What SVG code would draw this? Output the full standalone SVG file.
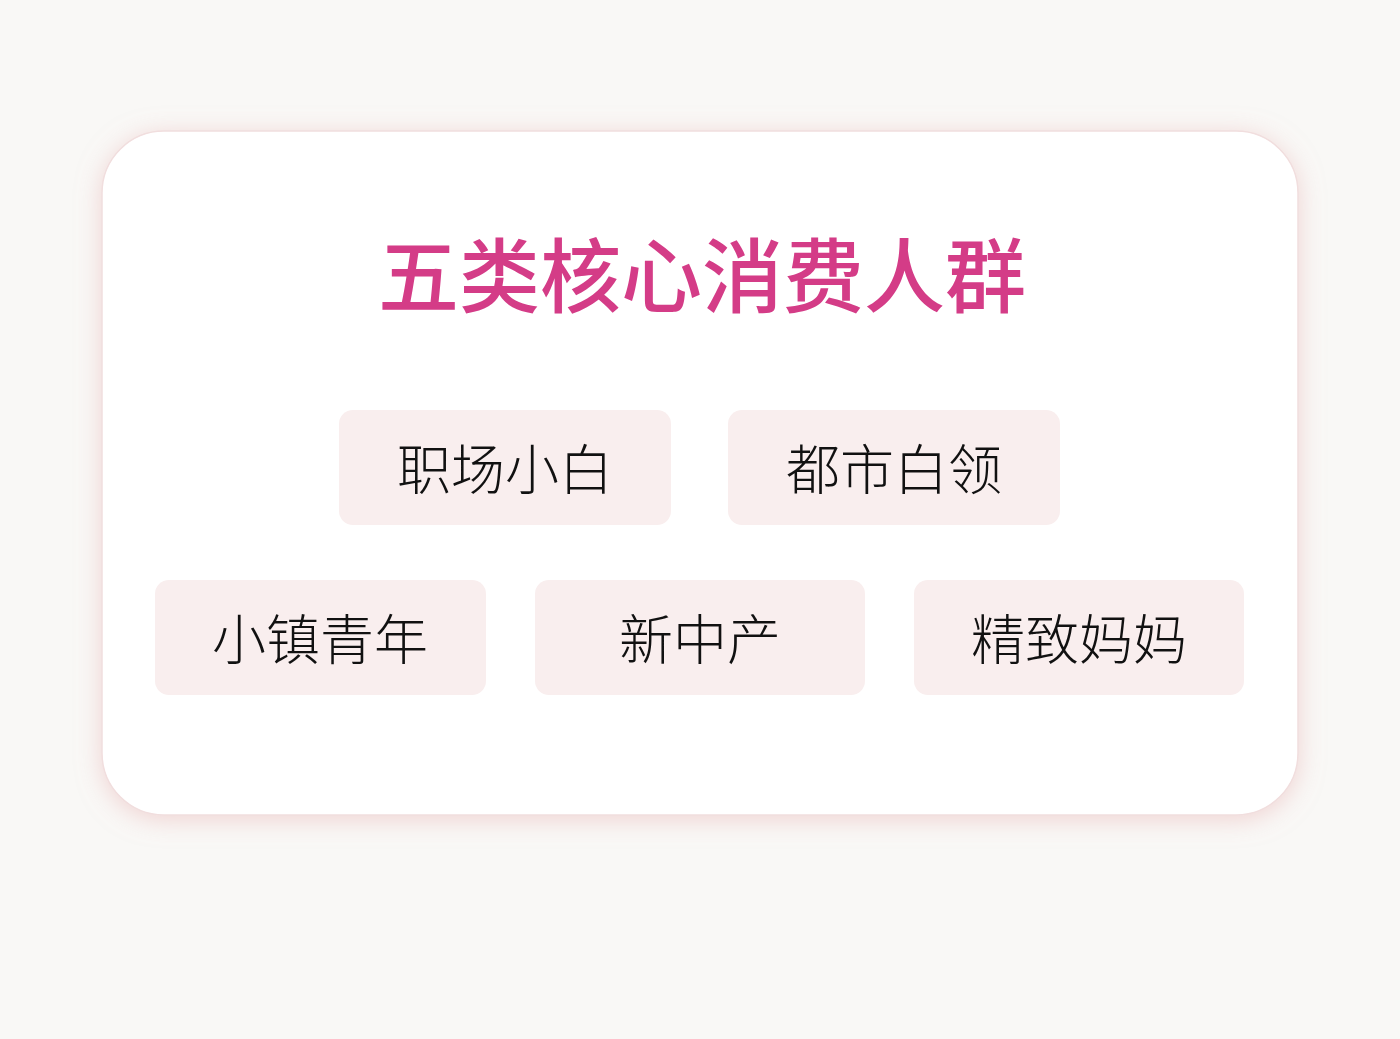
<svg xmlns="http://www.w3.org/2000/svg" width="1400" height="1039" viewBox="0 0 1400 1039">
<defs>
<filter id="glow" x="-10%" y="-15%" width="120%" height="130%">
<feDropShadow dx="0" dy="4" stdDeviation="12" flood-color="#e6aeae" flood-opacity="0.5"/>
</filter>
<style>
.tag{fill:#f9eeee}
.lbl{font-family:"Noto Sans CJK SC","Noto Sans",sans-serif;font-size:54px;font-weight:300;fill:#111;text-anchor:middle;dominant-baseline:central}
.title{font-family:"Noto Sans CJK SC","Noto Sans",sans-serif;font-size:81px;font-weight:500;fill:#d43c87;text-anchor:middle;dominant-baseline:central}
</style>
</defs>
<rect width="1400" height="1039" fill="#f9f8f6"/>
<g id="card">
<rect x="102" y="131" width="1196" height="684" rx="62" fill="#ffffff" stroke="#f1dede" stroke-width="1.5" filter="url(#glow)"/>
<text class="title" x="702" y="270">五类核心消费人群</text>
</g>
<g id="connectors"></g>
<g id="n1"><rect class="tag" x="339" y="410" width="332" height="115" rx="14"/><text class="lbl" x="505" y="466">职场小白</text></g>
<g id="n2"><rect class="tag" x="728" y="410" width="332" height="115" rx="14"/><text class="lbl" x="894" y="466">都市白领</text></g>
<g id="n3"><rect class="tag" x="155" y="580" width="331" height="115" rx="14"/><text class="lbl" x="320" y="636">小镇青年</text></g>
<g id="n4"><rect class="tag" x="535" y="580" width="330" height="115" rx="14"/><text class="lbl" x="700" y="636">新中产</text></g>
<g id="n5"><rect class="tag" x="914" y="580" width="330" height="115" rx="14"/><text class="lbl" x="1079" y="636">精致妈妈</text></g>
</svg>
